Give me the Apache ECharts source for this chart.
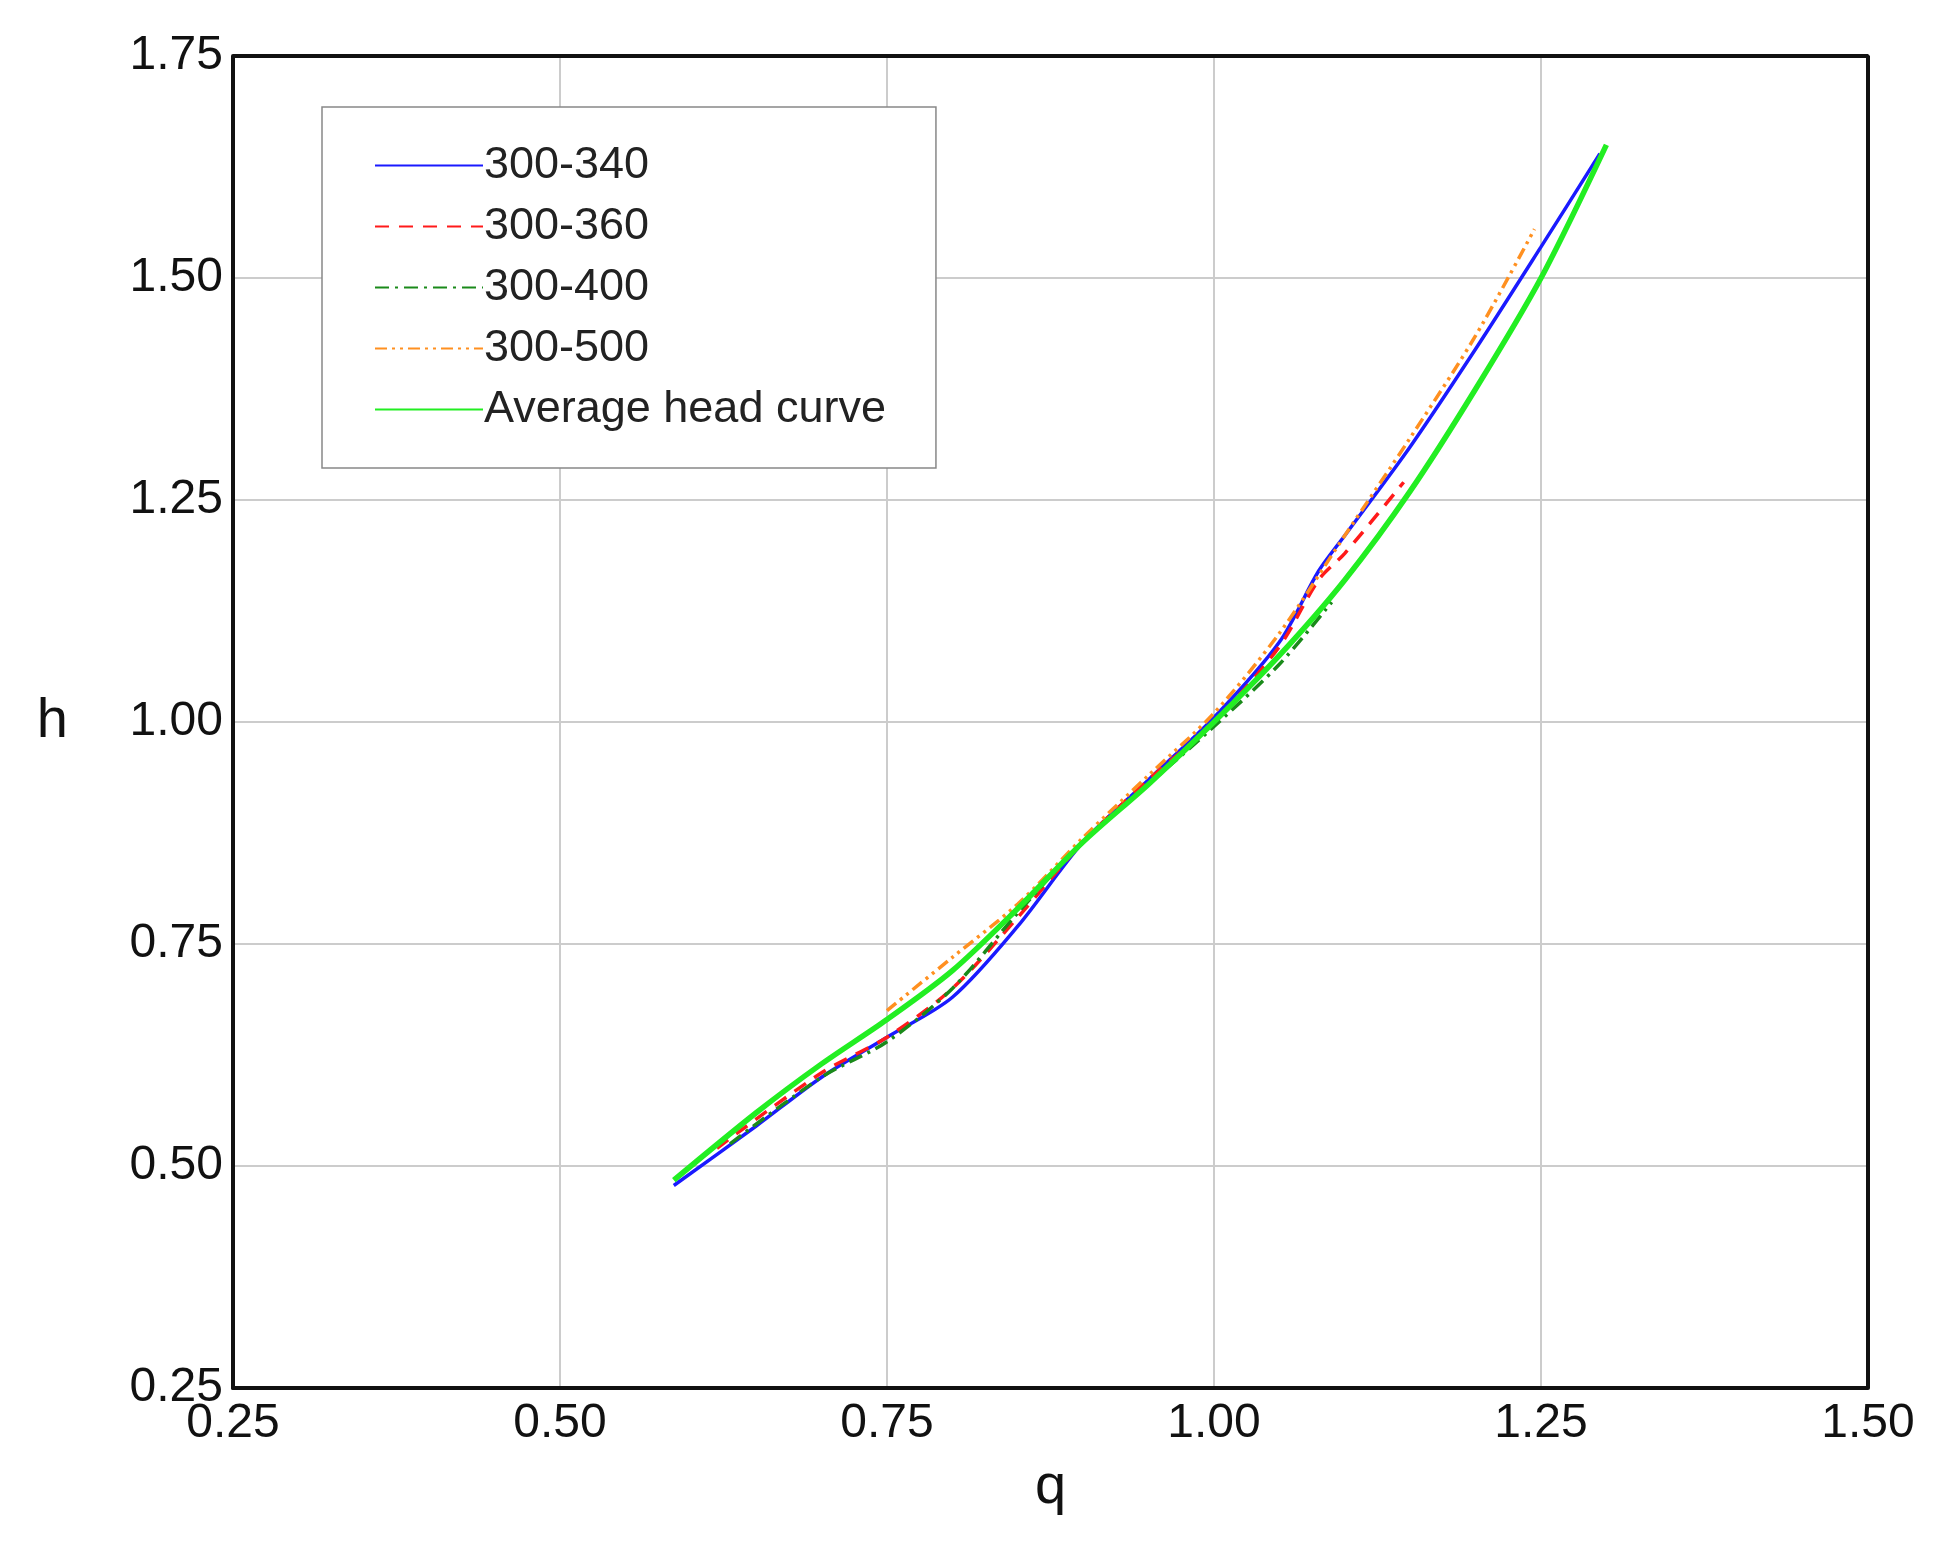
<!DOCTYPE html>
<html>
<head>
<meta charset="utf-8">
<script src="https://cdn.jsdelivr.net/npm/echarts@6/dist/echarts.min.js"></script>
<style>
html, body { margin: 0; padding: 0; background: #fff; }
#chart { width: 1947px; height: 1563px; }
</style>
</head>
<body>
<div id="chart"></div>
<script>
// head curves, [q, h]
var s340 = [[0.587,0.478],[0.65,0.545],[0.70,0.60],[0.75,0.645],[0.80,0.69],[0.85,0.77],[0.90,0.865],[0.95,0.935],[1.00,1.005],[1.05,1.09],[1.08,1.17],[1.10,1.21],[1.15,1.31],[1.20,1.42],[1.25,1.535],[1.295,1.64]];
var s360 = [[0.62,0.52],[0.70,0.605],[0.75,0.645],[0.80,0.70],[0.85,0.78],[0.90,0.865],[0.95,0.935],[1.00,1.00],[1.05,1.085],[1.08,1.16],[1.10,1.19],[1.145,1.27]];
var s400 = [[0.63,0.525],[0.70,0.60],[0.75,0.64],[0.80,0.70],[0.85,0.785],[0.90,0.865],[0.95,0.93],[1.00,0.995],[1.05,1.065],[1.09,1.135]];
var s500 = [[0.75,0.675],[0.80,0.735],[0.85,0.795],[0.90,0.87],[0.95,0.94],[1.00,1.01],[1.05,1.10],[1.10,1.21],[1.15,1.32],[1.20,1.435],[1.245,1.555]];
var avg = [[0.587,0.484],[0.65,0.56],[0.70,0.615],[0.75,0.665],[0.80,0.72],[0.85,0.79],[0.90,0.865],[0.95,0.93],[1.00,1.00],[1.05,1.075],[1.10,1.16],[1.15,1.26],[1.20,1.375],[1.25,1.50],[1.30,1.65]];

var font = 'Liberation Sans, Arial, sans-serif';
var chart = echarts.init(document.getElementById('chart'));

function line(name, data, color, type, width) {
    return {
        name: name,
        type: 'line',
        data: data,
        smooth: 0.3,
        symbol: 'none',
        lineStyle: { color: color, type: type, width: width },
        itemStyle: { color: color }
    };
}

chart.setOption({
    animation: false,
    grid: { left: 233, right: 79, top: 56, bottom: 175 },
    legend: {
        left: 322,
        top: 107,
        orient: 'vertical',
        padding: [36, 50, 36, 52],
        itemGap: 16,
        itemWidth: 108,
        itemHeight: 44,
        itemStyle: { opacity: 0 },
        backgroundColor: '#fff',
        borderColor: '#888',
        borderWidth: 1.5,
        textStyle: { fontFamily: font, fontSize: 45, color: '#222', padding: [0, 0, 0, -4] },
        data: ['300-340', '300-360', '300-400', '300-500', 'Average head curve']
    },
    xAxis: {
        type: 'value',
        min: 0.25,
        max: 1.5,
        interval: 0.25,
        name: 'q',
        nameLocation: 'middle',
        nameGap: 72,
        nameTextStyle: { fontFamily: font, fontSize: 56, color: '#111' },
        axisLine: { show: true, lineStyle: { color: '#111', width: 4 } },
        axisTick: { show: false },
        axisLabel: { fontFamily: font, fontSize: 48, color: '#111', margin: 12,
            formatter: function (v) { return v.toFixed(2); } },
        splitLine: { show: true, lineStyle: { color: '#ccc', width: 2 } }
    },
    yAxis: {
        type: 'value',
        min: 0.25,
        max: 1.75,
        interval: 0.25,
        name: 'h',
        nameLocation: 'middle',
        nameRotate: 0,
        nameGap: 165,
        nameTextStyle: { fontFamily: font, fontSize: 56, color: '#111' },
        axisLine: { show: true, lineStyle: { color: '#111', width: 4 } },
        axisTick: { show: false },
        axisLabel: { fontFamily: font, fontSize: 48, color: '#111', margin: 10,
            formatter: function (v) { return v.toFixed(2); } },
        splitLine: { show: true, lineStyle: { color: '#ccc', width: 2 } }
    },
    series: [
        line('300-340', s340, '#1a1aff', 'solid', 3.5),
        line('300-360', s360, '#ff1a1a', [14, 10], 3.5),
        line('300-400', s400, '#1a8a1a', [14, 6, 3, 6], 3.5),
        line('300-500', s500, '#ff9020', [12, 5, 3, 5, 3, 5], 3.5),
        line('Average head curve', avg, '#22ee22', 'solid', 5.5),
        {
            // frame on top and right
            type: 'line', data: [[0.25, 1.75], [1.5, 1.75], [1.5, 0.25]],
            symbol: 'none', silent: true, lineStyle: { color: '#111', width: 4 }
        }
    ]
});
</script>
</body>
</html>
